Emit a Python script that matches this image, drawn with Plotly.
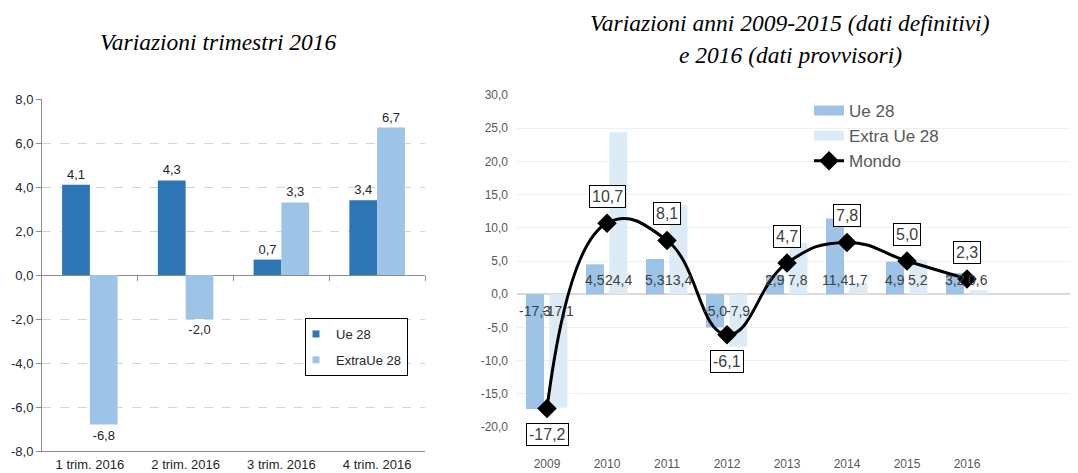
import plotly.graph_objects as go

# ---------------- data ----------------
trim_categories = ["1 trim. 2016", "2 trim. 2016", "3 trim. 2016", "4 trim. 2016"]
trim_ue28 = [4.1, 4.3, 0.7, 3.4]
trim_extra_ue28 = [-6.8, -2.0, 3.3, 6.7]
trim_ticks = [-8, -6, -4, -2, 0, 2, 4, 6, 8]

years = ["2009", "2010", "2011", "2012", "2013", "2014", "2015", "2016"]
year_ue28 = [-17.3, 4.5, 5.3, -5.0, 2.9, 11.4, 4.9, 3.2]
year_extra_ue28 = [-17.1, 24.4, 13.4, -7.9, 7.8, 1.7, 5.2, 0.6]
year_mondo = [-17.2, 10.7, 8.1, -6.1, 4.7, 7.8, 5.0, 2.3]
year_ticks = [-20, -15, -10, -5, 0, 5, 10, 15, 20, 25, 30]

left_title = "Variazioni trimestri 2016"
right_title_1 = "Variazioni anni 2009-2015 (dati definitivi)"
right_title_2 = "e 2016 (dati provvisori)"

# ---------------- styling ----------------
PAGE_W, PAGE_H = 1078, 473
BODY = 8  # default page margin around the plot div
W, H = PAGE_W - BODY, PAGE_H - BODY
DARK = "#2E75B6"
LIGHT = "#9DC3E6"
PALE = "#DDEBF7"
SANS = "Liberation Sans, Arial, sans-serif"
SERIF = "Liberation Serif, Times New Roman, serif"
TITLE_SIZE = 23.5


def fmt(v):
    return f"{v:.1f}".replace(".", ",")


def px_x(p):
    return (p - BODY) / W


def px_y(p):
    return (H - (p - BODY)) / H


fig = go.Figure()

# ---------- left chart ----------
LW = 0.29
fig.add_trace(go.Bar(
    x=trim_categories, y=trim_ue28, name="Ue 28", marker_color=DARK,
    width=LW, offset=-LW, text=[fmt(v) for v in trim_ue28],
    textposition="outside", textfont=dict(size=13, color="#262626"),
    cliponaxis=False, showlegend=False, xaxis="x", yaxis="y",
))
fig.add_trace(go.Bar(
    x=trim_categories, y=trim_extra_ue28, name="ExtraUe 28", marker_color=LIGHT,
    width=LW, offset=0, text=[fmt(v) for v in trim_extra_ue28],
    textposition="outside", textfont=dict(size=13, color="#262626"),
    cliponaxis=False, showlegend=False, xaxis="x", yaxis="y",
))
# legend entries (left)
for nm, col in [("Ue 28", DARK), ("ExtraUe 28", LIGHT)]:
    fig.add_trace(go.Scatter(
        x=[None], y=[None], mode="markers", name=nm,
        marker=dict(symbol="square", size=7, color=col),
        legend="legend", legendgroup=nm, xaxis="x", yaxis="y",
    ))
# empty trace so the zero-line tick axis gets drawn
fig.add_trace(go.Scatter(
    x=[None], y=[None], mode="markers", showlegend=False,
    hoverinfo="skip", xaxis="x3", yaxis="y",
))

# ---------- right chart ----------
RW = 0.30
R_OFF_UE = -0.35
R_OFF_EX = 0.04
fig.add_trace(go.Bar(
    x=years, y=year_ue28, name="Ue 28", marker_color=LIGHT,
    width=RW, offset=R_OFF_UE, showlegend=False, xaxis="x2", yaxis="y2",
))
fig.add_trace(go.Bar(
    x=years, y=year_extra_ue28, name="Extra Ue 28", marker_color=PALE,
    width=RW, offset=R_OFF_EX, showlegend=False, xaxis="x2", yaxis="y2",
))
for nm, col in [("Ue 28", LIGHT), ("Extra Ue 28", PALE)]:
    fig.add_trace(go.Scatter(
        x=[None], y=[None], mode="lines", name=nm,
        line=dict(color=col, width=10),
        legend="legend2", xaxis="x2", yaxis="y2",
    ))
fig.add_trace(go.Scatter(
    x=years, y=year_mondo, name="Mondo", mode="lines+markers",
    line=dict(color="black", width=3, shape="spline", smoothing=1.3),
    marker=dict(symbol="diamond", size=15, color="black"),
    legend="legend2", xaxis="x2", yaxis="y2", cliponaxis=False,
))

annotations = []
# bar value labels (right) at the base of each bar
cat_px = (PAGE_W - 517) / 9.35
for vals, off in [(year_ue28, R_OFF_UE), (year_extra_ue28, R_OFF_EX)]:
    shift = (off + RW / 2) * cat_px
    for i, v in enumerate(vals):
        annotations.append(dict(
            x=i, y=0, xref="x2", yref="y2", text=fmt(v), showarrow=False,
            xshift=shift, yshift=4 if v >= 0 else -7,
            yanchor="bottom" if v >= 0 else "top",
            font=dict(size=14, color="#404040", family=SANS),
        ))
# Mondo labels in boxes
for i, v in enumerate(year_mondo):
    annotations.append(dict(
        x=i, y=v, xref="x2", yref="y2", text=fmt(v), showarrow=False,
        yanchor="bottom" if v >= 0 else "top", yshift=15 if v >= 0 else -15,
        font=dict(size=16, color="#404040", family=SANS),
        bgcolor="white", bordercolor="black", borderwidth=1, borderpad=2,
    ))
# titles
annotations.append(dict(
    x=px_x(218.5), y=px_y(42), xref="paper", yref="paper", showarrow=False,
    text=f"<i>{left_title}</i>", font=dict(family=SERIF, size=TITLE_SIZE, color="black"),
    xanchor="center", yanchor="middle",
))
annotations.append(dict(
    x=px_x(790), y=px_y(23), xref="paper", yref="paper", showarrow=False,
    text=f"<i>{right_title_1}</i>", font=dict(family=SERIF, size=TITLE_SIZE, color="black"),
    xanchor="center", yanchor="middle",
))
annotations.append(dict(
    x=px_x(790), y=px_y(55), xref="paper", yref="paper", showarrow=False,
    text=f"<i>{right_title_2}</i>", font=dict(family=SERIF, size=TITLE_SIZE, color="black"),
    xanchor="center", yanchor="middle",
))

n_trim = len(trim_categories)
fig.update_layout(
    template="none",
    width=W, height=H,
    margin=dict(l=0, r=0, t=0, b=0, pad=0, autoexpand=False),
    paper_bgcolor="white", plot_bgcolor="white",
    separators=",.",
    font=dict(family=SANS),
    barmode="overlay",
    annotations=annotations,
    xaxis=dict(
        type="category", automargin=False,
        domain=[px_x(42), px_x(425)], anchor="y",
        range=[-0.5, n_trim - 0.5], showgrid=False, zeroline=False,
        showline=True, linecolor="#8C8C8C", linewidth=1, ticks="",
        tickfont=dict(size=13, color="#262626"), ticklabelstandoff=1,
    ),
    # category boundary ticks drawn on the zero line
    xaxis3=dict(
        type="linear", overlaying="x", anchor="free",
        position=px_y(275), automargin=False,
        range=[-0.5, n_trim - 0.5], autorange=False,
        showgrid=False, zeroline=False,
        showline=False, showticklabels=False,
        tickmode="array", tickvals=[k + 0.5 for k in range(n_trim)],
        ticks="outside", ticklen=5, tickcolor="#8C8C8C", side="bottom",
    ),
    yaxis=dict(
        automargin=False,
        domain=[px_y(451), px_y(99)], anchor="x",
        range=[-8, 8], tickmode="array", tickvals=trim_ticks,
        ticktext=[fmt(t) for t in trim_ticks],
        showgrid=True, gridcolor="#D4D4D4", griddash="dash", gridwidth=1,
        zeroline=True, zerolinecolor="#8C8C8C", zerolinewidth=1,
        showline=True, linecolor="#8C8C8C", linewidth=1,
        ticks="outside", ticklen=5, tickcolor="#8C8C8C",
        tickfont=dict(size=13, color="#262626"),
    ),
    xaxis2=dict(
        type="category", automargin=False,
        domain=[px_x(517), 1.0], anchor="y2",
        range=[-0.5, 8.85], showgrid=False, zeroline=False, showline=False,
        ticks="", tickfont=dict(size=12, color="#595959"), ticklabelstandoff=28,
    ),
    yaxis2=dict(
        automargin=False,
        domain=[px_y(427), px_y(95)], anchor="x2",
        range=[-20, 30], tickmode="array", tickvals=year_ticks,
        ticktext=[fmt(t) for t in year_ticks],
        showgrid=True, gridcolor="#EFEFEF", gridwidth=1,
        zeroline=True, zerolinecolor="#D9D9D9", zerolinewidth=2,
        showline=False, ticks="",
        tickfont=dict(size=12, color="#595959"), ticklabelstandoff=8,
    ),
    legend=dict(
        x=px_x(305), y=px_y(318), xanchor="left", yanchor="top",
        xref="paper", yref="paper",
        bgcolor="white", bordercolor="black", borderwidth=1,
        font=dict(size=13, color="#262626", family=SANS),
        tracegroupgap=6, indentation=-10,
    ),
    legend2=dict(
        x=px_x(809), y=px_y(93), xanchor="left", yanchor="top",
        xref="paper", yref="paper",
        bgcolor="rgba(0,0,0,0)", borderwidth=0,
        font=dict(size=17, color="#595959", family=SANS),
        tracegroupgap=0, traceorder="normal",
    ),
)

fig.write_html("out.html")
